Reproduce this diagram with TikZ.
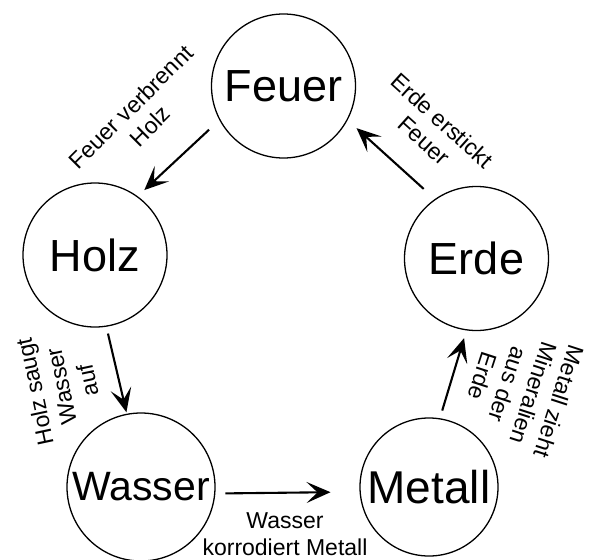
\documentclass[tikz,border=0pt]{standalone}
\usepackage{fontspec}
\setmainfont{Liberation Sans}
\usetikzlibrary{arrows.meta}
\begin{document}
\begin{tikzpicture}[x=1pt,y=-1pt,
  elem/.style={circle, draw, line width=1.3pt, inner sep=0pt, font=\fontsize{45}{45}\selectfont},
  lbl/.style={align=center, inner sep=0pt, font=\fontsize{23}{27}\selectfont},
  arr/.style={line width=2.1pt, -{Stealth[length=24pt,width=21pt,inset=11pt]}}]
\useasboundingbox (0,0) rectangle (593,559);
\node[elem, minimum size=144pt] (Feuer) at (283.5,86) {Feuer};
\node[elem, minimum size=144pt] (Holz) at (95,255) {Holz};
\node[elem, minimum size=144pt] (Erde) at (476.5,258.5) {Erde};
\node[elem, minimum size=148pt, font=\fontsize{41}{41}\selectfont] (Wasser) at (141,487) {Wasser};
\node[elem, minimum size=138pt, font=\fontsize{46}{46}\selectfont] (Metall) at (429,487) {Metall};

\draw[arr, shorten <=14pt, shorten >=9pt] (Feuer.208) -- (Holz.54);
\draw[arr, shorten <=15pt, shorten >=12pt] (Erde.125) -- (Feuer.332);
\draw[arr, shorten <=7pt, shorten >=1.5pt] (Holz.279) -- (Wasser.101.5);
\draw[arr, shorten <=10pt, shorten >=29pt] (Wasser.355) -- (Metall.184);
\draw[arr, shorten <=8pt, shorten >=8pt] (Metall.81) -- (Erde.262);

\node[lbl, rotate=45] (l1) at (140.5,116.5) {Feuer verbrennt\\Holz};
\node[lbl, rotate=-42] (l2) at (433,130.5) {Erde erstickt\\Feuer};
\node[lbl, rotate=102] (l3) at (61,386) {Holz saugt\\Wasser\\auf};
\node[lbl, rotate=-108] (l4) at (521,389) {Metall zieht\\Mineralien\\aus der\\Erde};
\node[lbl] (l5) at (285,534) {Wasser\\korrodiert Metall};
\end{tikzpicture}
\end{document}
